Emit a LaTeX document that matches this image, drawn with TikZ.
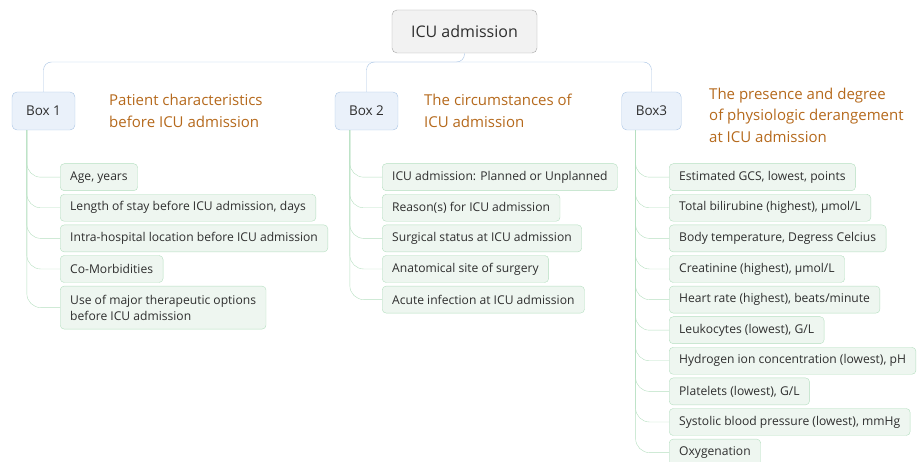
\documentclass[tikz,border=0pt]{standalone}
\usepackage{fontspec}
\setmainfont{Open Sans}
\usepackage{xcolor}
\usepackage{tikz}
\usetikzlibrary{positioning}

\definecolor{rootfill}{HTML}{F2F2F2}
\definecolor{rootline}{HTML}{A6A6A6}
\definecolor{boxfill}{HTML}{EAF1FA}
\definecolor{boxline}{HTML}{A9C4E4}
\definecolor{itemfill}{HTML}{EEF6F0}
\definecolor{itemline}{HTML}{B5DFC0}
\definecolor{labelcol}{HTML}{B5691C}
\definecolor{txt}{HTML}{2E2E2E}

\begin{document}
\begin{tikzpicture}[x=1pt,y=-1pt,
  root/.style={draw=rootline, fill=rootfill, rounded corners=5pt, minimum width=145pt, minimum height=43pt, font=\fontsize{16}{19}\selectfont, text=txt},
  topbox/.style={draw=boxline, fill=boxfill, rounded corners=5pt, minimum height=38pt, inner xsep=14pt, font=\fontsize{13.5}{16}\selectfont, text=txt},
  caption/.style={anchor=west, align=left, text=labelcol, inner sep=0pt, font=\fontsize{15}{21.5}\selectfont},
  item/.style={draw=itemline, fill=itemfill, rounded corners=4pt, minimum height=27pt, inner xsep=10pt, align=left, text=txt, font=\fontsize{12.1}{16}\selectfont},
  bus/.style={draw=boxline, rounded corners=8pt},
  branch/.style={draw=itemline, rounded corners=14pt}]
\useasboundingbox (0,0) rectangle (919,462);

% top level
\node[root] (icu) at (464.5,31.5) {ICU admission};
\node[topbox] (b1) at (43.5,111) {Box 1};
\node[topbox] (b2) at (366.5,111) {Box 2};
\node[topbox] (b3) at (651.5,111) {Box3};

\node[caption] (c1) at (109,111) {Patient characteristics\\before ICU admission};
\node[caption] (c2) at (424,111) {The circumstances of\\ICU admission};
\node[caption] (c3) at (709,115) {The presence and degree\\of physiologic derangement\\at ICU admission};

\coordinate (split) at (464.5,62);
\draw[bus] (icu.south) -- (split) -| (b1.north);
\draw[bus] (split) -| (b2.north);
\draw[bus] (split) -| (b3.north);

% box 1
\node[item, anchor=north west] (p1) at (60,163.5) {Age, years};
\node[item, below=3.2pt of p1.south west, anchor=north west] (p2) {Length of stay before ICU admission, days};
\node[item, below=3.2pt of p2.south west, anchor=north west] (p3) {Intra-hospital location before ICU admission};
\node[item, below=3.2pt of p3.south west, anchor=north west] (p4) {Co-Morbidities};
\node[item, below=3.2pt of p4.south west, anchor=north west, minimum height=43pt] (p5) {Use of major therapeutic options\\before ICU admission};

% box 2
\node[item, anchor=north west] (s1) at (382,163.5) {ICU admission: Planned or Unplanned};
\node[item, below=3.2pt of s1.south west, anchor=north west] (s2) {Reason(s) for ICU admission};
\node[item, below=3.2pt of s2.south west, anchor=north west] (s3) {Surgical status at ICU admission};
\node[item, below=3.2pt of s3.south west, anchor=north west] (s4) {Anatomical site of surgery};
\node[item, below=3.2pt of s4.south west, anchor=north west] (s5) {Acute infection at ICU admission};

% box 3
\node[item, anchor=north west] (m1) at (669,163.5) {Estimated GCS, lowest, points};
\node[item, below=3.2pt of m1.south west, anchor=north west] (m2) {Total bilirubine (highest), µmol/L};
\node[item, below=3.2pt of m2.south west, anchor=north west] (m3) {Body temperature, Degress Celcius};
\node[item, below=3.2pt of m3.south west, anchor=north west] (m4) {Creatinine (highest), µmol/L};
\node[item, below=3.2pt of m4.south west, anchor=north west] (m5) {Heart rate (highest), beats/minute};
\node[item, below=3.2pt of m5.south west, anchor=north west] (m6) {Leukocytes (lowest), G/L};
\node[item, below=3.2pt of m6.south west, anchor=north west] (m7) {Hydrogen ion concentration (lowest), pH};
\node[item, below=3.2pt of m7.south west, anchor=north west] (m8) {Platelets (lowest), G/L};
\node[item, below=3.2pt of m8.south west, anchor=north west] (m9) {Systolic blood pressure (lowest), mmHg};
\node[item, below=3.2pt of m9.south west, anchor=north west] (m10) {Oxygenation};

% branches
\draw[branch] ([xshift=15pt]b1.south west) |- (p1.west);
\draw[branch] ([xshift=15pt]b1.south west) |- (p2.west);
\draw[branch] ([xshift=15pt]b1.south west) |- (p3.west);
\draw[branch] ([xshift=15pt]b1.south west) |- (p4.west);
\draw[branch] ([xshift=15pt]b1.south west) |- (p5.west);
\draw[branch] ([xshift=15pt]b2.south west) |- (s1.west);
\draw[branch] ([xshift=15pt]b2.south west) |- (s2.west);
\draw[branch] ([xshift=15pt]b2.south west) |- (s3.west);
\draw[branch] ([xshift=15pt]b2.south west) |- (s4.west);
\draw[branch] ([xshift=15pt]b2.south west) |- (s5.west);
\draw[branch] ([xshift=14pt]b3.south west) |- (m1.west);
\draw[branch] ([xshift=14pt]b3.south west) |- (m2.west);
\draw[branch] ([xshift=14pt]b3.south west) |- (m3.west);
\draw[branch] ([xshift=14pt]b3.south west) |- (m4.west);
\draw[branch] ([xshift=14pt]b3.south west) |- (m5.west);
\draw[branch] ([xshift=14pt]b3.south west) |- (m6.west);
\draw[branch] ([xshift=14pt]b3.south west) |- (m7.west);
\draw[branch] ([xshift=14pt]b3.south west) |- (m8.west);
\draw[branch] ([xshift=14pt]b3.south west) |- (m9.west);
\draw[branch] ([xshift=14pt]b3.south west) |- (m10.west);
\end{tikzpicture}
\end{document}
